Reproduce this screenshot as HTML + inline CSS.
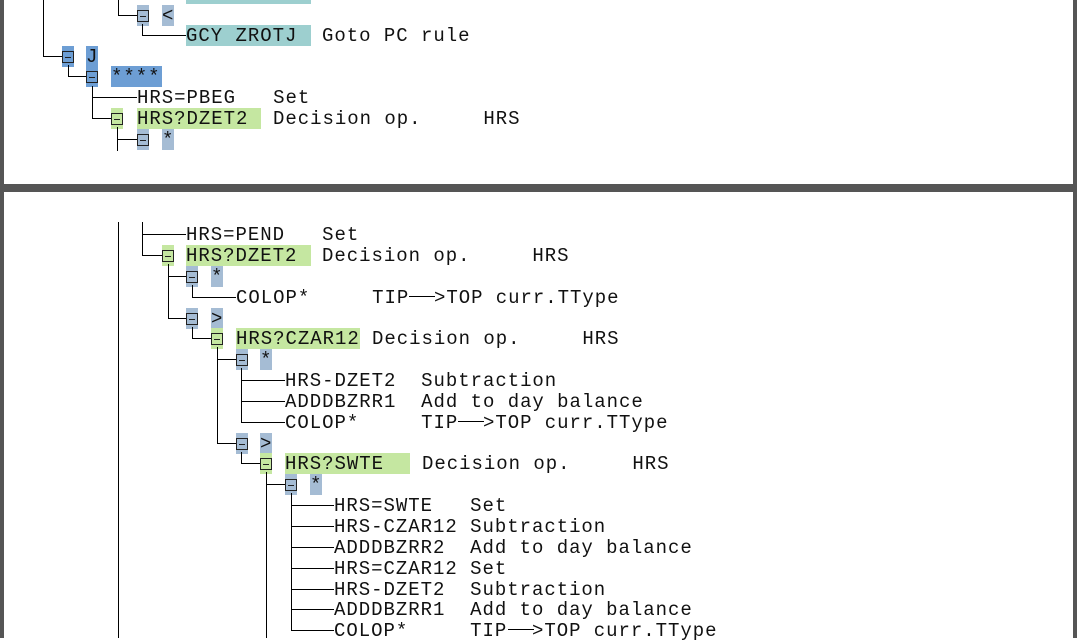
<!DOCTYPE html>
<html><head><meta charset="utf-8"><style>
body{margin:0;width:1077px;height:638px;position:relative;overflow:hidden;background:#fff;font-family:"Liberation Mono","DejaVu Sans Mono",monospace;}
.t{position:absolute;font-size:19px;letter-spacing:0.97px;line-height:22px;white-space:pre;color:#111;height:21px}
.h{position:absolute;background:#000;height:1px}
.v{position:absolute;background:#000;width:1px}
.b{position:absolute;width:12px;height:21px}
.b i{position:absolute;left:0px;top:5px;width:10px;height:10px;border:1px solid #222}
.b i:after{content:"";position:absolute;left:2px;top:5px;width:6px;height:1px;background:#222}
.g{background:#c5e7a1}.gb{background:#a5bcd4}.db{background:#6d9ed4}.tl{background:#9dcfcf}
.bar{position:absolute;background:#555}
</style></head><body>
<div class="bar" style="left:0;top:0;width:4px;height:638px"></div>
<div class="bar" style="left:1073px;top:0;width:4px;height:638px"></div>
<div class="bar" style="left:0;top:184px;width:1077px;height:8px"></div>

<!-- TOP -->
<div class="tl" style="position:absolute;left:186px;top:0;width:125px;height:4px"></div>
<div class="v" style="left:43px;top:0;height:57px"></div>
<div class="v" style="left:118px;top:0;height:16px"></div>
<div class="h" style="left:118px;top:15px;width:19px"></div>
<div class="b gb" style="left:137px;top:5px"><i></i></div>
<div class="t gb" style="left:162px;top:5px;width:12px">&lt;</div>
<div class="v" style="left:142px;top:24px;height:12px"></div>
<div class="h" style="left:142px;top:35px;width:44px"></div>
<div class="t tl" style="left:186px;top:25px;width:125px">GCY ZROTJ</div>
<div class="t" style="left:322px;top:25px">Goto PC rule</div>

<div class="h" style="left:43px;top:56px;width:19px"></div>
<div class="b db" style="left:62px;top:46px"><i></i></div>
<div class="t db" style="left:86px;top:46px;width:12px">J</div>
<div class="v" style="left:68px;top:65px;height:12px"></div>
<div class="h" style="left:68px;top:76px;width:18px"></div>
<div class="b db" style="left:86px;top:66px"><i></i></div>
<div class="t db" style="left:111px;top:66px;width:51px">****</div>
<div class="v" style="left:92px;top:86px;height:33px"></div>
<div class="h" style="left:92px;top:97px;width:45px"></div>
<div class="t" style="left:137px;top:87px">HRS=PBEG   Set</div>
<div class="h" style="left:92px;top:118px;width:19px"></div>
<div class="b g" style="left:111px;top:108px"><i></i></div>
<div class="t g" style="left:137px;top:108px;width:124px">HRS?DZET2</div>
<div class="t" style="left:273px;top:108px">Decision op.     HRS</div>
<div class="v" style="left:117px;top:127px;height:24px"></div>
<div class="h" style="left:117px;top:139px;width:20px"></div>
<div class="b gb" style="left:137px;top:129px"><i></i></div>
<div class="t gb" style="left:162px;top:129px;width:12px">*</div>

<!-- BOTTOM -->
<div class="v" style="left:118px;top:222px;height:416px"></div>
<div class="v" style="left:142px;top:222px;height:34px"></div>
<div class="h" style="left:142px;top:234px;width:44px"></div>
<div class="t" style="left:186px;top:224px">HRS=PEND   Set</div>
<div class="h" style="left:142px;top:255px;width:20px"></div>
<div class="b g" style="left:162px;top:245px"><i></i></div>
<div class="t g" style="left:186px;top:245px;width:125px">HRS?DZET2</div>
<div class="t" style="left:322px;top:245px">Decision op.     HRS</div>
<div class="v" style="left:168px;top:264px;height:55px"></div>
<div class="h" style="left:168px;top:276px;width:18px"></div>
<div class="b gb" style="left:186px;top:266px"><i></i></div>
<div class="t gb" style="left:211px;top:266px;width:12px">*</div>
<div class="v" style="left:192px;top:285px;height:13px"></div>
<div class="h" style="left:192px;top:297px;width:44px"></div>
<div class="t" style="left:236px;top:287px">COLOP*     TIP  &gt;TOP curr.TType</div>
<div class="h" style="left:409px;top:296px;width:26px"></div>
<div class="h" style="left:168px;top:318px;width:18px"></div>
<div class="b gb" style="left:186px;top:308px"><i></i></div>
<div class="t gb" style="left:211px;top:308px;width:12px">&gt;</div>
<div class="v" style="left:192px;top:327px;height:12px"></div>
<div class="h" style="left:192px;top:338px;width:19px"></div>
<div class="b g" style="left:211px;top:328px"><i></i></div>
<div class="t g" style="left:236px;top:328px;width:124px">HRS?CZAR12</div>
<div class="t" style="left:372px;top:328px">Decision op.     HRS</div>
<div class="v" style="left:217px;top:347px;height:97px"></div>
<div class="h" style="left:217px;top:359px;width:19px"></div>
<div class="b gb" style="left:236px;top:349px"><i></i></div>
<div class="t gb" style="left:260px;top:349px;width:12px">*</div>
<div class="v" style="left:241px;top:368px;height:55px"></div>
<div class="h" style="left:241px;top:380px;width:44px"></div>
<div class="h" style="left:241px;top:401px;width:44px"></div>
<div class="h" style="left:241px;top:422px;width:44px"></div>
<div class="t" style="left:285px;top:370px">HRS-DZET2  Subtraction</div>
<div class="t" style="left:285px;top:391px">ADDDBZRR1  Add to day balance</div>
<div class="t" style="left:285px;top:412px">COLOP*     TIP  &gt;TOP curr.TType</div>
<div class="h" style="left:458px;top:421px;width:26px"></div>
<div class="h" style="left:217px;top:443px;width:19px"></div>
<div class="b gb" style="left:236px;top:433px"><i></i></div>
<div class="t gb" style="left:260px;top:433px;width:12px">&gt;</div>
<div class="v" style="left:241px;top:452px;height:12px"></div>
<div class="h" style="left:241px;top:463px;width:19px"></div>
<div class="b g" style="left:260px;top:453px"><i></i></div>
<div class="t g" style="left:285px;top:453px;width:125px">HRS?SWTE</div>
<div class="t" style="left:422px;top:453px">Decision op.     HRS</div>
<div class="v" style="left:266px;top:472px;height:166px"></div>
<div class="h" style="left:266px;top:484px;width:19px"></div>
<div class="b gb" style="left:285px;top:474px"><i></i></div>
<div class="t gb" style="left:310px;top:474px;width:12px">*</div>
<div class="v" style="left:291px;top:493px;height:138px"></div>
<div class="h" style="left:291px;top:505px;width:43px"></div>
<div class="h" style="left:291px;top:526px;width:43px"></div>
<div class="h" style="left:291px;top:547px;width:43px"></div>
<div class="h" style="left:291px;top:568px;width:43px"></div>
<div class="h" style="left:291px;top:589px;width:43px"></div>
<div class="h" style="left:291px;top:609px;width:43px"></div>
<div class="h" style="left:291px;top:630px;width:43px"></div>
<div class="t" style="left:334px;top:495px">HRS=SWTE   Set</div>
<div class="t" style="left:334px;top:516px">HRS-CZAR12 Subtraction</div>
<div class="t" style="left:334px;top:537px">ADDDBZRR2  Add to day balance</div>
<div class="t" style="left:334px;top:558px">HRS=CZAR12 Set</div>
<div class="t" style="left:334px;top:579px">HRS-DZET2  Subtraction</div>
<div class="t" style="left:334px;top:599px">ADDDBZRR1  Add to day balance</div>
<div class="t" style="left:334px;top:620px">COLOP*     TIP  &gt;TOP curr.TType</div>
<div class="h" style="left:508px;top:629px;width:26px"></div>
</body></html>
